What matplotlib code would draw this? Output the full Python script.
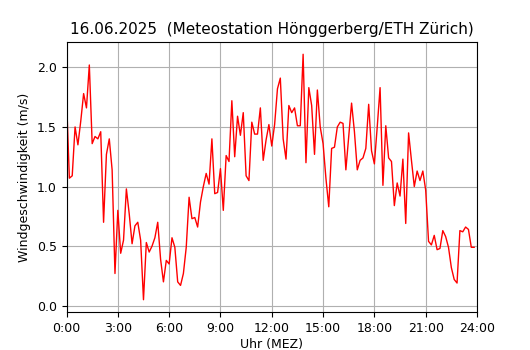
import matplotlib
matplotlib.use("Agg")
import matplotlib.pyplot as plt
import numpy as np

# 10-minute wind speed values (m/s), 00:00 .. 23:50
wind = [
    1.74, 1.07, 1.09, 1.50, 1.35, 1.55,   # 0h
    1.78, 1.66, 2.02, 1.36, 1.42, 1.40,   # 1h
    1.46, 0.70, 1.27, 1.40, 1.14, 0.27,   # 2h
    0.80, 0.44, 0.55, 0.98, 0.77, 0.52,   # 3h
    0.67, 0.70, 0.55, 0.05, 0.53, 0.45,   # 4h
    0.50, 0.57, 0.70, 0.39, 0.20, 0.38,   # 5h
    0.35, 0.57, 0.49, 0.20, 0.17, 0.27,   # 6h
    0.49, 0.91, 0.73, 0.74, 0.66, 0.87,   # 7h
    1.00, 1.11, 1.02, 1.40, 0.94, 0.95,   # 8h
    1.15, 0.80, 1.26, 1.21, 1.72, 1.25,   # 9h
    1.59, 1.43, 1.62, 1.09, 1.05, 1.54,   # 10h
    1.44, 1.44, 1.66, 1.22, 1.39, 1.52,   # 11h
    1.34, 1.52, 1.82, 1.91, 1.40, 1.23,   # 12h
    1.68, 1.62, 1.66, 1.51, 1.51, 2.11,   # 13h
    1.20, 1.83, 1.68, 1.27, 1.81, 1.50,   # 14h
    1.36, 1.07, 0.83, 1.32, 1.33, 1.50,   # 15h
    1.54, 1.53, 1.14, 1.42, 1.70, 1.46,   # 16h
    1.14, 1.22, 1.24, 1.32, 1.69, 1.30,   # 17h
    1.19, 1.50, 1.83, 1.01, 1.51, 1.24,   # 18h
    1.21, 0.84, 1.03, 0.92, 1.23, 0.69,   # 19h
    1.45, 1.22, 1.00, 1.13, 1.05, 1.13,   # 20h
    0.97, 0.54, 0.51, 0.59, 0.47, 0.48,   # 21h
    0.63, 0.58, 0.49, 0.32, 0.22, 0.19,   # 22h
    0.63, 0.62, 0.66, 0.64, 0.49, 0.49,   # 23h
]
step_minutes = 10
tick_hours = [0, 3, 6, 9, 12, 15, 18, 21, 24]
tick_labels = ["0:00", "3:00", "6:00", "9:00", "12:00", "15:00", "18:00", "21:00", "24:00"]
title = "16.06.2025  (Meteostation Hönggerberg/ETH Zürich)"

hours = np.arange(len(wind)) * step_minutes / 60.0

fig = plt.figure(figsize=(5.3, 3.5), dpi=100)
ax = fig.add_axes([0.1255, 0.1086, 0.7745, 0.7714])
ax.plot(hours, wind, color="red", linewidth=1.0)
ax.set_xlim(0, 24)
ax.set_xticks(tick_hours)
ax.set_xticklabels(tick_labels)
ax.set_yticks([0.0, 0.5, 1.0, 1.5, 2.0])
ax.grid(True, color="#b0b0b0", linewidth=0.8)
ax.set_axisbelow(True)
ax.set_xlabel("Uhr (MEZ)", fontsize=9, labelpad=2.5)
ax.set_ylabel("Windgeschwindigkeit (m/s)", fontsize=9)
ax.set_title(title, fontsize=11)
ax.tick_params(labelsize=9)
fig.savefig("out.png", dpi=100)
